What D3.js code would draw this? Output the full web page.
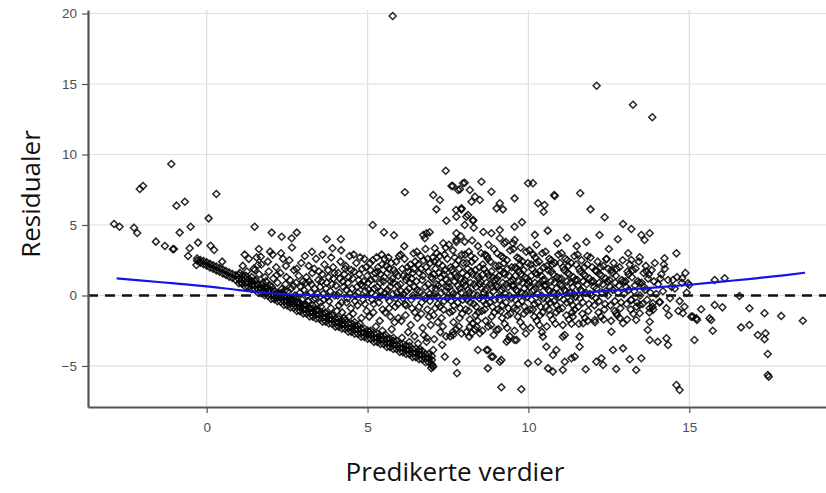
<!DOCTYPE html>
<html>
<head>
<meta charset="utf-8">
<script src="https://cdn.jsdelivr.net/npm/d3@7"></script>
<style>
  body { margin: 0; background: #fff; }
  svg { display: block; }
</style>
</head>
<body>
<svg id="chart" width="826" height="493"></svg>
<script>
// Tick positions on the two axes
const xTicks = [0, 5, 10, 15];
const yTicks = [-5, 0, 5, 10, 15, 20];

// Loess smoother of residuals against fitted values
const smoothFitted = [-2.8, -2, -1, 0, 1, 2, 3, 4, 5, 6, 7, 8, 9, 10, 11, 12, 13, 14, 15, 16, 17, 18, 18.6];
const smoothResid  = [1.22, 1.05, 0.86, 0.65, 0.38, 0.16, 0.04, -0.04, -0.1, -0.16, -0.2, -0.2, -0.14, -0.04, 0.1, 0.25, 0.42, 0.58, 0.76, 0.98, 1.2, 1.45, 1.62];

// Observations with a zero response form a straight diagonal band: [fitted, residual]
const bandPoints = [
  [-0.3,2.46],[-0.3,2.62],[-0.2,2.33],[-0.2,2.52],[-0.1,2.22],[-0.1,2.45],[0.0,2.12],[0.0,2.35],
  [0.1,1.99],[0.1,2.24],[0.2,1.9],[0.2,2.14],[0.3,1.78],[0.3,2.05],[0.4,1.68],[0.4,1.93],
  [0.5,1.56],[0.5,1.84],[0.6,1.46],[0.6,1.74],[0.7,1.33],[0.7,1.63],[0.8,1.24],[0.8,1.52],
  [0.9,1.12],[0.9,1.43],
  [1.0,0.87],[1.0,1.17],[1.0,1.45],[1.1,0.84],[1.1,1.14],[1.1,1.42],[1.2,0.62],[1.2,0.89],[1.2,1.19],
  [1.3,0.59],[1.3,0.89],[1.3,1.17],[1.4,0.44],[1.4,0.74],[1.4,1.02],[1.5,0.42],[1.5,0.72],[1.5,1.0],
  [1.6,0.19],[1.6,0.46],[1.6,0.76],[1.7,0.16],[1.7,0.46],[1.7,0.74],[1.8,0.02],[1.8,0.32],[1.8,0.6],
  [1.9,-0.01],[1.9,0.29],[1.9,0.57],[2.0,-0.24],[2.0,0.03],[2.0,0.33],[2.1,-0.27],[2.1,0.03],[2.1,0.31],
  [2.2,-0.41],[2.2,-0.11],[2.2,0.17],[2.3,-0.44],[2.3,-0.14],[2.3,0.14],[2.4,-0.67],[2.4,-0.4],[2.4,-0.1],
  [2.5,-0.7],[2.5,-0.4],[2.5,-0.12],[2.6,-0.84],[2.6,-0.54],[2.6,-0.26],[2.7,-0.87],[2.7,-0.57],[2.7,-0.29],
  [2.8,-1.1],[2.8,-0.83],[2.8,-0.53],[2.9,-1.12],[2.9,-0.82],[2.9,-0.54],[3.0,-1.27],[3.0,-0.97],[3.0,-0.69],
  [3.1,-1.28],[3.1,-0.98],[3.1,-0.7],[3.2,-1.49],[3.2,-1.22],[3.2,-0.92],[3.3,-1.5],[3.3,-1.2],[3.3,-0.92],
  [3.4,-1.63],[3.4,-1.33],[3.4,-1.05],[3.5,-1.64],[3.5,-1.34],[3.5,-1.06],[3.6,-1.85],[3.6,-1.58],[3.6,-1.28],
  [3.7,-1.86],[3.7,-1.56],[3.7,-1.28],[3.8,-1.99],[3.8,-1.69],[3.8,-1.41],[3.9,-2.0],[3.9,-1.7],[3.9,-1.42],
  [4.0,-2.21],[4.0,-1.94],[4.0,-1.64],[4.1,-2.22],[4.1,-1.92],[4.1,-1.64],[4.2,-2.35],[4.2,-2.05],[4.2,-1.77],
  [4.3,-2.36],[4.3,-2.06],[4.3,-1.78],[4.4,-2.57],[4.4,-2.3],[4.4,-2.0],[4.5,-2.58],[4.5,-2.28],[4.5,-2.0],
  [4.6,-2.71],[4.6,-2.41],[4.6,-2.13],[4.7,-2.72],[4.7,-2.42],[4.7,-2.14],[4.8,-2.93],[4.8,-2.66],[4.8,-2.36],
  [4.9,-2.94],[4.9,-2.64],[4.9,-2.36],[5.0,-3.07],[5.0,-2.77],[5.0,-2.49],[5.1,-3.08],[5.1,-2.78],[5.1,-2.5],
  [5.2,-3.29],[5.2,-3.02],[5.2,-2.72],[5.3,-3.3],[5.3,-3.0],[5.3,-2.72],[5.4,-3.43],[5.4,-3.13],[5.4,-2.85],
  [5.5,-3.44],[5.5,-3.14],[5.5,-2.86],[5.6,-3.65],[5.6,-3.38],[5.6,-3.08],[5.7,-3.66],[5.7,-3.36],[5.7,-3.08],
  [5.8,-3.79],[5.8,-3.49],[5.8,-3.21],[5.9,-3.8],[5.9,-3.5],[5.9,-3.22],[6.0,-4.01],[6.0,-3.74],[6.0,-3.44],
  [6.1,-4.02],[6.1,-3.72],[6.1,-3.44],[6.2,-4.15],[6.2,-3.85],[6.2,-3.57],[6.3,-4.16],[6.3,-3.86],[6.3,-3.58],
  [6.4,-4.37],[6.4,-4.1],[6.4,-3.8],[6.5,-4.38],[6.5,-4.08],[6.5,-3.8],[6.6,-4.51],[6.6,-4.21],[6.6,-3.93],
  [6.7,-4.52],[6.7,-4.22],[6.7,-3.94],[6.8,-4.73],[6.8,-4.46],[6.8,-4.16],[6.9,-4.74],[6.9,-4.44],[6.9,-4.16],
  [7.0,-4.87],[7.0,-4.57],[7.0,-4.29],[7.02,-5.0],[6.98,-5.15]
];

// Main cloud of residuals: [fitted, residual]
const cloudPoints = [
  [1.03,1.6],[1.12,2.1],[1.25,1.7],[1.31,2.6],[1.4,1.3],[1.46,1.9],[1.08,0.9],[1.22,1.4],[1.37,1.05],[1.18,2.9],
  [1.52,1.1],[1.58,0.8],[1.63,1.5],[1.7,2.2],[1.74,0.9],[1.81,1.3],[1.86,0.5],[1.93,1.7],[1.97,0.7],[1.55,2.7],[1.68,0.55],[1.79,0.35],[1.9,2.4],[1.62,3.3],[1.84,1.0],
  [2.02,0.6],[2.07,1.2],[2.11,0.3],[2.16,2.0],[2.2,0.9],[2.24,0.1],[2.29,1.6],[2.33,0.45],[2.37,2.6],[2.41,-0.1],[2.45,0.8],[2.48,1.3],[2.05,2.9],[2.14,-0.15],[2.26,-0.05],[2.35,0.2],[2.43,0.35],[2.18,1.45],[2.31,3.0],[2.46,2.1],
  [2.52,0.3],[2.55,-0.2],[2.59,1.1],[2.63,0.5],[2.67,-0.4],[2.71,1.8],[2.74,0.0],[2.78,0.9],[2.82,-0.5],[2.86,1.4],[2.9,0.2],[2.94,2.3],[2.97,-0.3],[2.57,2.5],[2.69,0.7],[2.8,1.9],[2.92,0.6],[2.61,-0.3],[2.76,-0.15],[2.88,-0.6],[2.99,1.0],[2.65,3.4],
  [3.02,0.4],[3.06,-0.6],[3.1,1.3],[3.13,0.0],[3.17,2.1],[3.21,-0.9],[3.25,0.8],[3.28,1.6],[3.32,-0.3],[3.36,0.5],[3.4,2.6],[3.43,-1.0],[3.47,1.1],[3.05,2.8],[3.15,-0.4],[3.23,0.2],[3.34,1.9],[3.45,0.1],[3.08,0.9],[3.19,1.0],[3.29,-0.7],[3.38,-0.2],[3.49,1.7],[3.27,3.1],
  [3.52,0.6],[3.55,-0.8],[3.59,1.5],[3.62,0.1],[3.66,2.2],[3.69,-1.2],[3.73,0.9],[3.77,1.8],[3.8,-0.4],[3.84,0.3],[3.87,2.7],[3.91,-1.4],[3.94,1.2],[3.98,0.0],[3.57,1.0],[3.64,-0.3],[3.71,0.5],[3.79,1.3],[3.86,-0.9],[3.93,2.0],[3.6,2.9],[3.75,-0.1],[3.89,0.8],[3.97,1.6],[3.53,-0.5],
  [4.02,0.7],[4.05,-1.1],[4.09,1.6],[4.12,0.2],[4.16,2.4],[4.19,-0.5],[4.23,1.0],[4.27,-1.6],[4.3,1.9],[4.34,0.4],[4.37,-0.2],[4.41,1.3],[4.44,2.8],[4.48,-0.9],[4.07,0.0],[4.14,1.2],[4.21,-1.2],[4.25,0.6],[4.32,2.1],[4.39,0.9],[4.46,0.1],[4.11,-0.7],[4.28,1.5],[4.43,-1.5],[4.18,3.2],[4.35,-0.5],[4.49,1.8],
  [4.52,0.5],[4.55,-1.3],[4.58,1.7],[4.62,0.0],[4.65,2.3],[4.69,-0.7],[4.72,1.1],[4.76,-2.0],[4.79,0.8],[4.83,1.9],[4.86,-0.3],[4.9,2.6],[4.93,0.3],[4.97,-1.1],[4.54,1.2],[4.61,-0.4],[4.67,0.6],[4.74,1.5],[4.81,-1.6],[4.88,1.0],[4.95,2.0],[4.57,2.9],[4.7,0.2],[4.84,0.7],[4.99,1.4],[4.6,-1.9],[4.77,2.7],[4.92,-0.6],
  [5.02,0.9],[5.05,-1.5],[5.09,1.8],[5.12,0.2],[5.16,2.5],[5.19,-0.6],[5.23,1.2],[5.26,-2.2],[5.3,0.6],[5.33,2.0],[5.37,-0.1],[5.4,1.5],[5.44,2.9],[5.47,-1.0],[5.04,0.4],[5.11,1.1],[5.18,-1.2],[5.25,0.0],[5.32,1.7],[5.39,0.9],[5.46,-2.5],[5.08,2.3],[5.21,0.5],[5.35,-0.5],[5.42,0.3],[5.14,-0.3],[5.28,2.7],[5.49,1.0],[5.06,-2.6],[5.38,-1.8],[5.24,1.6],[5.45,2.2],
  [5.52,1.3],[5.55,-1.2],[5.58,2.1],[5.62,0.4],[5.65,2.7],[5.68,-0.4],[5.72,1.0],[5.75,-2.4],[5.79,0.1],[5.82,1.8],[5.86,-0.8],[5.89,2.4],[5.93,0.7],[5.96,-1.6],[5.54,0.2],[5.61,1.6],[5.67,-0.9],[5.74,2.3],[5.81,0.9],[5.88,-0.2],[5.95,1.4],[5.57,-2.8],[5.7,0.6],[5.84,-1.9],[5.98,2.8],[5.6,-0.1],[5.77,1.2],[5.91,0.2],[5.53,2.6],[5.66,1.9],[5.8,-3.0],[5.94,-0.6],[5.71,-1.5],[5.87,1.6],
  [6.02,0.8],[6.05,-1.8],[6.08,1.9],[6.12,0.1],[6.15,2.6],[6.19,-0.7],[6.22,1.3],[6.26,-2.6],[6.29,0.5],[6.33,2.2],[6.36,-0.3],[6.4,1.6],[6.43,3.0],[6.47,-1.2],[6.04,0.3],[6.11,1.4],[6.18,-1.4],[6.24,2.0],[6.31,0.9],[6.38,-0.9],[6.45,0.6],[6.07,-3.0],[6.2,1.1],[6.34,-2.1],[6.48,2.4],[6.1,-0.2],[6.27,1.7],[6.41,0.0],[6.03,2.9],[6.16,-0.6],[6.3,-3.3],[6.44,1.9],[6.21,0.3],[6.37,1.2],[6.14,3.5],[6.46,-2.9],
  [6.52,1.0],[6.55,-1.6],[6.58,2.2],[6.62,0.3],[6.65,2.8],[6.68,-0.5],[6.72,1.4],[6.75,-2.8],[6.79,0.6],[6.82,2.0],[6.86,-1.0],[6.89,1.7],[6.93,0.1],[6.96,-2.1],[6.54,0.4],[6.61,1.6],[6.67,-1.3],[6.74,2.5],[6.81,-0.2],[6.88,0.8],[6.95,2.3],[6.57,-3.4],[6.7,1.1],[6.84,-3.0],[6.98,1.3],[6.6,-0.8],[6.77,0.0],[6.91,-1.5],[6.53,3.1],[6.66,1.9],[6.8,3.3],[6.94,-0.4],[6.71,-2.3],[6.87,2.6],[6.63,-3.8],[6.99,0.5],
  [7.02,1.2],[7.05,-1.4],[7.08,2.4],[7.12,0.5],[7.15,3.0],[7.19,-0.6],[7.22,1.6],[7.26,-2.6],[7.29,0.2],[7.33,2.1],[7.36,-1.0],[7.4,1.8],[7.43,3.4],[7.47,-0.2],[7.04,0.0],[7.11,1.9],[7.18,-1.9],[7.24,2.8],[7.31,0.9],[7.38,-0.4],[7.45,1.1],[7.07,-3.1],[7.2,0.7],[7.34,-2.2],[7.48,2.6],[7.1,-0.9],[7.27,1.3],[7.41,0.3],[7.03,2.7],[7.16,-0.1],[7.3,-1.6],[7.44,-2.9],[7.21,2.3],[7.37,1.5],[7.14,0.8],[7.46,0.6],[7.25,-0.8],[7.39,2.9],[7.06,1.5],[7.32,-3.5],
  [7.52,0.9],[7.55,-1.2],[7.58,2.0],[7.62,0.3],[7.65,3.2],[7.68,-0.7],[7.72,1.5],[7.75,-2.4],[7.79,0.0],[7.82,2.5],[7.86,-1.6],[7.89,1.2],[7.93,2.9],[7.96,-0.3],[7.54,0.6],[7.61,1.8],[7.67,-1.9],[7.74,2.2],[7.81,0.7],[7.88,-0.9],[7.95,1.6],[7.57,-2.9],[7.7,1.0],[7.84,-2.2],[7.98,2.3],[7.6,-0.4],[7.77,1.3],[7.91,0.2],[7.53,3.6],[7.66,0.1],[7.8,-0.5],[7.94,-1.3],[7.71,2.7],[7.87,0.5],[7.64,-1.1],[7.99,0.9],[7.76,3.8],[7.92,-2.7],[7.59,1.4],[7.85,1.9],
  [8.02,1.1],[8.05,-1.0],[8.08,2.3],[8.12,0.4],[8.15,3.1],[8.19,-0.5],[8.22,1.7],[8.26,-2.0],[8.29,0.1],[8.33,2.6],[8.36,-1.4],[8.4,1.4],[8.43,3.5],[8.47,-0.2],[8.04,0.7],[8.11,1.9],[8.18,-1.7],[8.24,2.4],[8.31,0.8],[8.38,-0.8],[8.45,1.2],[8.07,-2.6],[8.2,0.9],[8.34,-2.4],[8.48,2.0],[8.1,-0.3],[8.27,1.5],[8.41,0.0],[8.03,2.9],[8.16,0.2],[8.3,-0.6],[8.44,-1.2],[8.21,2.8],[8.37,0.6],[8.14,-1.1],[8.49,0.8],[8.25,3.9],[8.42,-1.8],[8.09,1.4],[8.35,1.8],
  [8.52,1.0],[8.55,-1.1],[8.58,2.2],[8.62,0.2],[8.65,2.9],[8.68,-0.6],[8.72,1.6],[8.75,-2.2],[8.79,0.0],[8.82,2.4],[8.86,-1.5],[8.89,1.3],[8.93,3.3],[8.96,-0.3],[8.54,0.5],[8.61,1.9],[8.67,-1.8],[8.74,2.6],[8.81,0.8],[8.88,-0.8],[8.95,1.1],[8.57,-2.5],[8.7,0.9],[8.84,-2.1],[8.98,2.1],[8.6,-0.4],[8.77,1.4],[8.91,0.3],[8.53,3.0],[8.66,0.4],[8.8,-0.5],[8.94,-1.2],[8.71,2.8],[8.87,0.6],[8.64,-1.0],[8.99,0.7],[8.76,3.6],[8.92,-2.8],[8.59,1.5],[8.85,1.7],
  [9.02,1.2],[9.05,-1.0],[9.08,2.1],[9.12,0.3],[9.15,2.8],[9.19,-0.7],[9.22,1.6],[9.26,-2.0],[9.29,0.1],[9.33,2.5],[9.36,-1.4],[9.4,1.4],[9.43,3.2],[9.47,-0.2],[9.04,0.6],[9.11,1.8],[9.18,-1.6],[9.24,2.3],[9.31,0.8],[9.38,-0.9],[9.45,1.0],[9.07,-2.4],[9.2,0.9],[9.34,-2.3],[9.48,2.0],[9.1,-0.3],[9.27,1.5],[9.41,0.0],[9.03,3.0],[9.16,0.4],[9.3,-0.5],[9.44,-1.3],[9.21,2.7],[9.37,0.6],[9.14,-1.1],[9.49,0.7],[9.25,3.7],[9.42,-2.9],[9.09,1.4],[9.35,1.9],
  [9.52,1.1],[9.55,-0.9],[9.58,2.0],[9.62,0.4],[9.65,2.7],[9.68,-0.6],[9.72,1.7],[9.75,-1.9],[9.79,0.2],[9.82,2.4],[9.86,-1.3],[9.89,1.3],[9.93,3.1],[9.96,-0.1],[9.54,0.7],[9.61,1.9],[9.67,-1.5],[9.74,2.2],[9.81,0.9],[9.88,-0.8],[9.95,1.2],[9.57,-2.5],[9.7,1.0],[9.84,-2.2],[9.98,2.3],[9.6,-0.3],[9.77,1.5],[9.91,0.1],[9.53,3.3],[9.66,0.3],[9.8,-0.4],[9.94,-1.1],[9.71,2.6],[9.87,0.5],[9.64,-1.0],[9.99,0.8],[9.76,3.4],[9.92,-2.7],[9.59,1.4],[9.85,1.8],
  [10.02,1.0],[10.05,-1.0],[10.08,2.2],[10.12,0.3],[10.15,2.9],[10.19,-0.6],[10.22,1.6],[10.26,-1.8],[10.29,0.1],[10.33,2.4],[10.36,-1.4],[10.4,1.4],[10.43,3.0],[10.47,-0.2],[10.04,0.6],[10.11,1.9],[10.18,-1.5],[10.24,2.3],[10.31,0.8],[10.38,-0.8],[10.45,1.1],[10.07,-2.3],[10.2,0.9],[10.34,-2.1],[10.48,2.0],[10.1,-0.3],[10.27,1.5],[10.41,0.0],[10.03,3.2],[10.16,0.4],[10.3,-0.5],[10.44,-1.2],[10.21,2.7],[10.37,0.6],[10.14,-1.0],[10.49,0.7],[10.25,3.6],[10.42,-2.6],[10.09,1.4],[10.35,1.7],
  [10.52,1.1],[10.55,-0.8],[10.58,2.1],[10.62,0.4],[10.65,2.6],[10.68,-0.5],[10.72,1.7],[10.75,-1.7],[10.79,0.2],[10.82,2.3],[10.86,-1.2],[10.89,1.3],[10.93,2.9],[10.96,-0.1],[10.54,0.7],[10.61,1.8],[10.67,-1.4],[10.74,2.2],[10.81,0.9],[10.88,-0.7],[10.95,1.2],[10.57,-2.2],[10.7,1.0],[10.84,-2.0],[10.98,2.3],[10.6,-0.3],[10.77,1.5],[10.91,0.1],[10.53,3.1],[10.66,0.3],[10.8,-0.4],[10.94,-1.0],[10.71,2.5],[10.87,0.5],[10.64,-1.0],[10.99,0.8],
  [11.02,1.2],[11.05,-0.9],[11.08,2.0],[11.12,0.4],[11.15,2.6],[11.19,-0.5],[11.22,1.6],[11.26,-1.7],[11.29,0.2],[11.33,2.3],[11.36,-1.2],[11.4,1.3],[11.43,2.8],[11.47,-0.1],[11.04,0.7],[11.11,1.8],[11.18,-1.4],[11.24,2.1],[11.31,0.9],[11.38,-0.7],[11.45,1.1],[11.07,-2.1],[11.2,1.0],[11.34,-2.0],[11.48,2.2],[11.1,-0.3],[11.27,1.5],[11.41,0.1],[11.03,3.0],[11.16,0.3],[11.3,-0.4],[11.44,-1.0],[11.21,2.5],[11.37,0.6],
  [11.52,1.1],[11.55,-0.8],[11.58,1.9],[11.62,0.4],[11.65,2.5],[11.69,-0.5],[11.72,1.5],[11.76,-1.6],[11.79,0.2],[11.83,2.2],[11.86,-1.1],[11.9,1.2],[11.93,2.7],[11.97,0.0],[11.54,0.7],[11.61,1.7],[11.68,-1.3],[11.74,2.0],[11.81,0.8],[11.88,-0.6],[11.95,1.0],[11.57,-2.0],[11.7,1.0],[11.84,-1.8],[11.98,2.0],[11.6,-0.2],[11.77,1.4],[11.91,0.1],[11.53,2.9],[11.66,0.3],
  [12.02,1.0],[12.05,-0.7],[12.08,1.8],[12.12,0.5],[12.15,2.4],[12.19,-0.4],[12.22,1.5],[12.26,-1.5],[12.29,0.2],[12.33,2.1],[12.36,-1.0],[12.4,1.2],[12.43,2.6],[12.47,0.0],[12.04,0.6],[12.11,1.7],[12.18,-1.2],[12.24,2.0],[12.31,0.8],[12.38,-0.6],[12.45,1.0],[12.07,-1.9],[12.2,0.9],[12.34,-1.7],[12.48,1.9],[12.1,-0.2],[12.27,1.4],[12.41,0.3],
  [12.52,1.1],[12.55,-0.7],[12.58,1.8],[12.62,0.4],[12.65,2.3],[12.69,-0.4],[12.72,1.4],[12.76,-1.4],[12.79,0.2],[12.83,2.0],[12.86,-0.9],[12.9,1.1],[12.93,2.5],[12.97,0.1],[12.54,0.6],[12.61,1.6],[12.68,-1.1],[12.74,1.9],[12.81,0.7],[12.88,-0.5],[12.95,1.0],[12.57,-1.8],[12.7,0.9],[12.84,-1.6],
  [13.02,1.0],[13.05,-0.6],[13.08,1.7],[13.12,0.4],[13.15,2.2],[13.19,-0.3],[13.22,1.3],[13.26,-1.3],[13.29,0.3],[13.33,1.9],[13.36,-0.8],[13.4,1.0],[13.43,2.4],[13.47,0.0],[13.04,0.6],[13.11,1.5],[13.18,-1.0],[13.24,1.8],[13.31,0.7],[13.38,-0.5],[13.45,0.9],[13.07,-1.7],
  [13.52,0.9],[13.55,-0.6],[13.58,1.6],[13.62,0.4],[13.65,2.1],[13.69,-0.3],[13.72,1.2],[13.76,-1.2],[13.79,0.2],[13.83,1.8],[13.86,-0.8],[13.9,1.0],[13.93,2.3],[13.97,0.1],[13.6,0.6],[13.74,1.5],[13.88,-1.0],[13.67,1.7],
  [14.03,0.8],[14.08,-0.5],[14.13,1.5],[14.18,0.3],[14.24,1.9],[14.29,-0.9],[14.34,1.1],[14.4,-0.2],[14.45,0.6],[14.1,1.2],[14.36,-1.4],[14.21,2.2],
  [14.55,0.5],[14.62,1.3],[14.7,-0.4],[14.77,0.9],[14.85,-0.8],[14.92,0.2],[14.66,-1.1],[14.88,1.6]
];

// Scattered residuals away from the main cloud: [fitted, residual]
const spreadPoints = [
  [-1.10,9.33],[-2.08,7.55],[-1.98,7.77],[-0.94,6.37],[-0.68,6.65],[0.30,7.2],[0.06,5.47],[-2.88,5.07],[-2.71,4.88],
  [-2.26,4.81],[-2.16,4.43],[-0.84,4.46],[-0.50,4.88],[1.49,4.88],[-1.58,3.82],[-1.30,3.51],[-1.05,3.28],[-1.02,3.3],
  [-0.27,3.75],[-0.53,3.35],[-0.58,2.8],[0.12,3.53],[0.23,3.23],[0.48,2.4],[-0.32,2.16],[1.68,2.75],[1.59,2.16],[1.49,1.81],
  [6.16,7.32],[5.16,5.0],[5.51,4.48],[5.82,4.27],[2.02,4.46],[2.33,4.17],[2.64,4.06],[2.80,4.46],[3.73,3.99],[4.17,3.99],[3.91,3.35],[1.97,3.11],
  [7.43,8.85],[7.65,7.77],[7.87,7.53],[7.97,7.96],[8.18,7.48],[8.34,7.01],[8.54,8.07],[8.85,7.36],[8.49,6.77],[8.23,6.65],
  [7.04,7.13],[7.25,6.77],[7.14,6.11],[7.75,6.06],[7.92,6.11],[7.45,5.3],[8.12,5.71],[8.28,5.3],[9.11,6.54],[9.01,6.18],[9.21,6.11],
  [9.57,6.89],[9.99,7.96],[10.14,7.96],[10.3,6.54],[10.5,6.42],[10.47,5.94],[10.82,7.06],[9.57,4.88],[9.11,4.65],[8.85,4.41],[9.11,4.06],
  [6.83,4.41],[6.78,4.06],[7.76,4.41],[7.76,3.94],[8.02,3.82],[9.57,3.94],
  [6.83,-3.28],[7.04,-3.87],[7.04,-5.05],[7.4,-4.34],[7.76,-4.7],[7.78,-5.52],[8.43,-3.87],[8.74,-3.87],[8.74,-5.17],[8.85,-4.34],
  [9.16,-4.57],[9.16,-6.51],[9.78,-6.65],[9.63,-3.16],[9.99,-4.81],[10.3,-4.7],[10.61,-5.17],[10.76,-5.4],[10.87,-3.87],[11.07,-2.92],
  [7.66,-2.57],[8.16,-2.92],[8.18,-2.21],[9.32,-3.28],[9.01,-2.45],
  [11.61,7.25],[11.93,6.11],[12.37,5.55],[12.94,5.07],[13.2,4.72],[12.21,4.29],[12.78,3.99],[13.51,4.29],[13.77,4.41],[13.61,3.94],
  [11.83,2.8],[12.42,2.57],[13.2,2.52],[13.46,2.71],[14.23,2.64],[14.6,2.99],[14.49,1.1],[14.78,1.22],[14.96,0.87],
  [15.37,-0.98],[15.22,-1.62],[15.06,-1.5],[14.8,-1.26],[15.16,-3.16],[13.77,-3.16],[14.02,-3.28],[14.34,-3.51],[14.29,-3.04],
  [13.71,-2.45],[13.35,-1.74],[12.94,-3.75],[13.51,-4.45],[13.15,-4.52],[13.35,-5.28],[12.63,-3.87],[12.58,-2.57],[12.27,-4.45],
  [12.11,-4.7],[12.32,-4.93],[12.73,-5.21],[11.78,-5.23],[11.59,-3.63],[11.44,-4.34],[11.34,-4.45],[11.13,-4.7],[11.07,-5.28],
  [14.6,-6.35],[14.7,-6.7],[11.13,-2.8],[11.59,-2.92],[11.7,-1.97],[11.38,-1.5],[12.06,-1.74],[12.94,-1.97],[12.73,-1.26],
  [13.46,-1.26],[13.77,-1.86],[13.77,-0.91],[13.87,-0.55],[14.08,-0.44],[13.46,-0.67],[13.2,-0.32],
  [15.79,1.1],[16.1,1.22],[16.56,-0.04],[15.0,0.74],[15.79,-0.67],[16.03,-0.84],[15.11,-1.5],[15.24,-1.74],[15.63,-1.62],
  [15.68,-1.74],[15.73,-2.5],[16.87,-0.91],[16.61,-2.26],[16.87,-2.09],[17.34,-1.26],[17.86,-1.45],[18.53,-1.79],
  [17.13,-2.8],[17.37,-2.68],[17.34,-3.1],[17.44,-4.15],[17.44,-5.64],[17.47,-5.76],
  [5.78,19.82],[12.12,14.88],[13.25,13.53],[13.85,12.64],[10.8,7.13],[7.61,7.77],[8.02,8.0],[7.81,7.48],
  [6.73,4.29],[6.93,4.48],[7.09,3.35],[7.35,3.7],[7.76,5.59],[7.92,6.18],[8.07,5.59],[8.28,5.35],[8.02,5.0],[9.52,3.7],
  [8.23,-2.68],[8.39,-2.21],[7.66,-2.8],[8.49,-2.68],[8.7,-3.87],[8.9,-4.34],[9.11,-4.7],[9.37,-3.16],[9.57,-3.16],
  [10.45,-2.92],[10.56,-3.63],[10.76,-4.22],
  [10.6,4.6],[10.9,3.7],[11.2,4.1],[11.5,3.5],[10.2,4.3],[9.8,5.2],[9.3,3.8],[8.6,4.5],[8.3,4.8],[7.9,4.2],[11.8,3.8],[12.5,3.3],[13.1,3.0]
];

const svg = d3.select("#chart");
const plot = { left: 88, right: 826, top: 10, bottom: 407 };

const x = d3.scaleLinear().domain([-3.69, 19.25]).range([plot.left, plot.right]);
const y = d3.scaleLinear().domain([-7.91, 20.25]).range([plot.bottom, plot.top]);

// Gridlines
const grid = svg.append("g").attr("stroke", "#dedede").attr("stroke-width", 1.2);
grid.selectAll("line.gx").data(xTicks).join("line")
  .attr("x1", d => x(d)).attr("x2", d => x(d))
  .attr("y1", plot.top).attr("y2", plot.bottom);
grid.selectAll("line.gy").data(yTicks).join("line")
  .attr("x1", plot.left).attr("x2", plot.right)
  .attr("y1", d => y(d)).attr("y2", d => y(d));

// Residual points drawn as open diamonds
const diamond = "M0,-3.5L3.5,0L0,3.5L-3.5,0Z";
const allPoints = bandPoints.concat(cloudPoints, spreadPoints);
svg.append("g")
  .selectAll("path")
  .data(allPoints)
  .join("path")
  .attr("d", diamond)
  .attr("transform", d => `translate(${x(d[0])},${y(d[1])})`)
  .attr("fill", "none")
  .attr("stroke", "#000")
  .attr("stroke-opacity", 0.85)
  .attr("stroke-width", 1.5);

// Zero reference line
svg.append("line")
  .attr("x1", plot.left).attr("x2", plot.right)
  .attr("y1", y(0)).attr("y2", y(0))
  .attr("stroke", "#111")
  .attr("stroke-width", 2.4)
  .attr("stroke-dasharray", "10,7");

// Smoother
const smooth = smoothFitted.map((f, i) => [f, smoothResid[i]]);
svg.append("path")
  .datum(smooth)
  .attr("d", d3.line().x(d => x(d[0])).y(d => y(d[1])).curve(d3.curveMonotoneX))
  .attr("fill", "none")
  .attr("stroke", "#1414e6")
  .attr("stroke-width", 2.2);

// Axes
const yAxis = svg.append("g")
  .attr("transform", `translate(${plot.left},0)`)
  .call(d3.axisLeft(y).tickValues(yTicks).tickSize(6).tickSizeOuter(0).tickPadding(5));
const xAxis = svg.append("g")
  .attr("transform", `translate(0,${plot.bottom})`)
  .call(d3.axisBottom(x).tickValues(xTicks).tickSize(6).tickSizeOuter(0).tickPadding(9));

[yAxis, xAxis].forEach(g => {
  g.select(".domain").attr("stroke", "#555").attr("stroke-width", 2.2);
  g.selectAll(".tick line").attr("stroke", "#555").attr("stroke-width", 1.2);
  g.selectAll(".tick text")
    .attr("fill", "#4d4d4d")
    .style("font-family", "'Liberation Sans', Arial, sans-serif")
    .style("font-size", "13.5px");
});

// Axis titles
svg.append("text")
  .attr("x", 455).attr("y", 481)
  .attr("text-anchor", "middle")
  .style("font-family", "'Open Sans', sans-serif")
  .style("font-size", "26px")
  .attr("fill", "#111")
  .text("Predikerte verdier");

svg.append("text")
  .attr("transform", "translate(40,194) rotate(-90)")
  .attr("text-anchor", "middle")
  .style("font-family", "'Open Sans', sans-serif")
  .style("font-size", "26px")
  .attr("fill", "#111")
  .text("Residualer");
</script>
</body>
</html>
